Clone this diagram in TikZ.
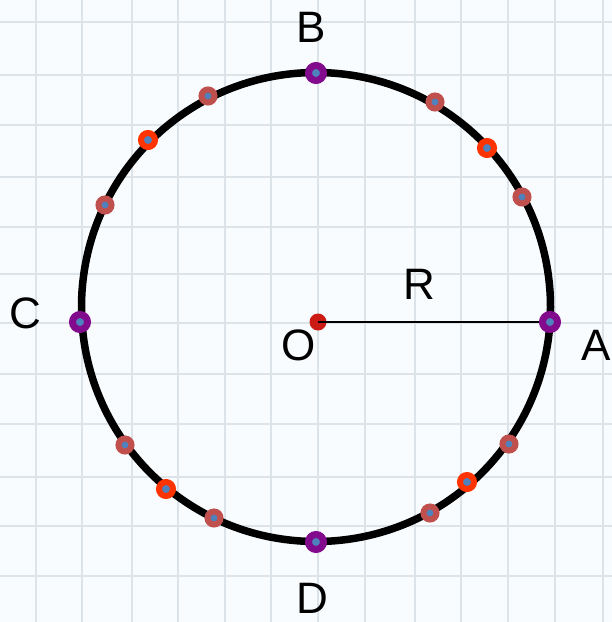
\documentclass[tikz,border=0pt]{standalone}
\usepackage{fontspec}
\setmainfont{Liberation Sans}
\definecolor{bgcol}{HTML}{F8FCFE}
\definecolor{gridcol}{HTML}{DCE4EA}
\definecolor{purp}{HTML}{820A8C}
\definecolor{brn}{HTML}{C0504D}
\definecolor{org}{HTML}{FF3300}
\definecolor{blu}{HTML}{4F81BD}
\definecolor{odot}{HTML}{CC1A14}
\tikzset{
  gridline/.style={draw=gridcol, line width=2.6pt},
  ptbase/.style={circle, inner sep=0pt, fill=blu},
  purpdot/.style={ptbase, draw=purp, minimum size=15pt, line width=7pt},
  brndot/.style={ptbase, draw=brn, minimum size=13pt, line width=6pt},
  orgdot/.style={ptbase, draw=org, minimum size=14pt, line width=6pt},
  lbl/.style={inner sep=0pt, font=\fontsize{44}{44}\selectfont}
}
\begin{document}
\begin{tikzpicture}[x=1pt,y=-1pt]
\useasboundingbox (0,0) rectangle (612,622);
\fill[bgcol] (0,0) rectangle (612,622);
% grid
\foreach \gx in {36,82,132,178,225,271,318,365,415,461,508,555,603}
  \draw[gridline] (\gx,0) -- (\gx,622);
\foreach \gy in {22,75,125,177,227,274,323,374,424,477,526,576}
  \draw[gridline] (0,\gy) -- (612,\gy);
% circle
\draw[line width=7.5pt] (316,307) circle[radius=234.5pt];
% centre and radius
\node[circle, fill=odot, inner sep=0pt, minimum size=17pt] (O) at (318,322) {};
\coordinate (cA) at (550,322);
\draw[line width=1.5pt] (O.center) -- (cA);
\node[purpdot] (A) at (cA) {};
\node[purpdot] (B) at (316,73) {};
\node[purpdot] (C) at (80,322) {};
\node[purpdot] (D) at (316,542) {};
% brown points
\node[brndot] (p1) at (435,102) {};
\node[brndot] (p2) at (522,197) {};
\node[brndot] (p3) at (208,96) {};
\node[brndot] (p4) at (105,205) {};
\node[brndot] (p5) at (125,445) {};
\node[brndot] (p6) at (214,518) {};
\node[brndot] (p7) at (509,444) {};
\node[brndot] (p8) at (430,513) {};
% orange points
\node[orgdot] (q1) at (487,148) {};
\node[orgdot] (q2) at (148,140) {};
\node[orgdot] (q3) at (166,489) {};
\node[orgdot] (q4) at (467,482) {};
% labels
\node[lbl] (lB) at (311,27) {B};
\node[lbl] (lC) at (25,313) {C};
\node[lbl] (lO) at (299,345) {O};
\node[lbl] (lR) at (419,284) {R};
\node[lbl] (lA) at (596,345) {A};
\node[lbl] (lD) at (312,598) {D};
\end{tikzpicture}
\end{document}
